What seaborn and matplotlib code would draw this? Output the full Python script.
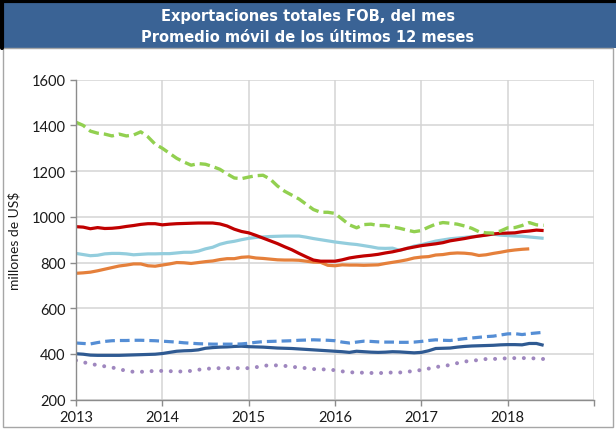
import numpy as np
import pandas as pd
import matplotlib
matplotlib.use("Agg")
import matplotlib.pyplot as plt
from matplotlib.patches import Rectangle
from matplotlib.lines import Line2D
import seaborn as sns

# Monthly 12-month moving averages, millions of US$, from January 2013
start_year = 2013
year_ticks = [2013, 2014, 2015, 2016, 2017, 2018, 2019]
year_labels = ["2013", "2014", "2015", "2016", "2017", "2018", ""]
y_ticks = [200, 400, 600, 800, 1000, 1200, 1400, 1600]

serie_verde = [1414, 1400, 1375, 1366, 1362, 1354, 1362, 1354, 1358, 1372, 1350, 1318,
               1300, 1278, 1256, 1240, 1226, 1233, 1230, 1220, 1208, 1188, 1170, 1167,
               1174, 1180, 1182, 1165, 1135, 1112, 1095, 1078, 1055, 1032, 1020, 1020,
               1015, 990, 965, 952, 966, 968, 962, 962, 956, 950, 942, 935,
               940, 955, 968, 975, 972, 968, 960, 950, 935, 930, 929, 938,
               952, 953, 962, 975, 965, 963]
serie_roja = [957, 955, 948, 953, 949, 950, 953, 958, 962, 967, 970, 970,
              965, 968, 970, 971, 972, 973, 973, 973, 969, 960, 946, 936,
              930, 919, 907, 895, 883, 869, 856, 840, 825, 811, 806, 806,
              806, 812, 820, 825, 829, 832, 836, 842, 847, 854, 862, 868,
              874, 878, 882, 887, 895, 900, 905, 911, 916, 920, 925, 928,
              929, 930, 935, 938, 942, 940]
serie_celeste = [840, 835, 830, 832, 838, 840, 840, 838, 834, 836, 838, 838,
                 839, 839, 842, 845, 845, 850, 860, 867, 880, 888, 893, 900,
                 906, 910, 912, 914, 915, 916, 916, 916, 911, 905, 900, 895,
                 890, 886, 882, 879, 874, 869, 863, 862, 863, 853, 862, 872,
                 878, 886, 894, 899, 904, 907, 910, 913, 916, 922, 924, 920,
                 918, 916, 915, 912, 909, 906]
serie_naranja = [753, 755, 758, 764, 771, 778, 785, 789, 794, 794, 786, 784,
                 789, 794, 800, 799, 796, 800, 804, 807, 813, 817, 817, 823,
                 825, 820, 818, 815, 812, 811, 811, 810, 806, 802, 801, 788,
                 786, 790, 789, 789, 788, 789, 790, 796, 801, 806, 812, 820,
                 824, 826, 833, 835, 840, 842, 841, 838, 831, 834, 840, 845,
                 851, 855, 858, 860]
serie_azul_discontinua = [448, 446, 444, 450, 455, 458, 459, 459, 460, 460, 459, 458,
                          456, 454, 452, 449, 447, 445, 444, 443, 443, 443, 443, 444,
                          447, 451, 454, 455, 456, 457, 458, 460, 461, 462, 461, 460,
                          458, 452, 448, 452, 456, 455, 453, 452, 452, 451, 451, 452,
                          455, 459, 462, 460, 459, 463, 467, 470, 473, 476, 478, 483,
                          488, 489, 485, 489, 492, 495]
serie_azul_oscura = [401, 399, 395, 394, 394, 394, 394, 395, 396, 397, 398, 399,
                     402, 407, 412, 414, 415, 418, 425, 428, 430, 431, 433, 434,
                     432, 431, 430, 428, 426, 425, 424, 422, 420, 418, 416, 414,
                     412, 410, 407, 412, 410, 408, 407, 408, 410, 409, 407, 405,
                     407, 414, 424, 425, 426, 430, 433, 435, 436, 437, 438, 440,
                     441, 441, 440, 446, 446, 438]
serie_morada = [372, 364, 357, 351, 346, 341, 334, 326, 322, 322, 324, 326,
                326, 325, 323, 324, 326, 331, 335, 337, 338, 338, 338, 338,
                338, 342, 348, 351, 350, 348, 344, 341, 338, 334, 333, 332,
                329, 324, 320, 319, 318, 317, 316, 318, 319, 319, 322, 326,
                330, 336, 343, 347, 352, 360, 367, 370, 374, 378, 378, 380,
                381, 382, 382, 382, 380, 378]

sns.set_theme(style="white")
plt.rcParams["font.family"] = ["Lato", "DejaVu Sans"]
plt.rcParams["lines.scale_dashes"] = False

fig = plt.figure(figsize=(6.16, 4.31), dpi=100)
ax = fig.add_axes([76 / 616, 1 - 400.7 / 431, (594 - 76) / 616, (400.7 - 80.7) / 431])


def fechas(values):
    return start_year + np.arange(len(values)) / 12.0


series = [
    (serie_naranja, "#e5803b", None, 2.3),
    (serie_celeste, "#93cddd", None, 2.3),
    (serie_roja, "#c00000", None, 2.3),
    (serie_verde, "#92d050", (7.5, 3.6), 2.4),
    (serie_azul_oscura, "#2f5a92", None, 2.3),
    (serie_azul_discontinua, "#558ed5", (7.0, 3.6), 2.3),
    (serie_morada, "#9f87bf", (0.01, 6.9), 2.9),
]

for values, color, dashes, lw in series:
    df = pd.DataFrame({"fecha": fechas(values), "valor": values})
    sns.lineplot(data=df, x="fecha", y="valor", color=color, linewidth=lw, ax=ax)
    line = ax.lines[-1]
    if dashes is not None:
        line.set_dashes(dashes)
        if dashes[0] < 0.1:
            line.set_dash_capstyle("round")
        else:
            line.set_dash_capstyle("butt")
    line.set_solid_capstyle("butt")

ax.set_xlim(2013, 2019)
ax.set_ylim(200, 1600)
ax.set_xticks(year_ticks)
ax.set_xticklabels(year_labels)
ax.set_yticks(y_ticks)
ax.set_yticklabels([str(v) for v in y_ticks])
ax.grid(True, color="#d4d4d4", linewidth=1.1)
ax.set_axisbelow(True)
for side in ["top", "right"]:
    ax.spines[side].set_visible(False)
for side in ["left", "bottom"]:
    ax.spines[side].set_color("#8c8c8c")
    ax.spines[side].set_linewidth(1.0)
ax.tick_params(axis="both", which="major", direction="out", length=4.5, width=1.0,
               color="#8c8c8c", labelsize=10.5, labelcolor="#1a1a1a", pad=3,
               left=True, bottom=True)
ax.set_xlabel("")
ax.set_ylabel("millones de US$", fontsize=10, color="#1a1a1a", labelpad=8)

# Title banner and outer frame
fig.patches.append(Rectangle((0, 1 - 49 / 431), 1, 49 / 431, transform=fig.transFigure,
                             facecolor="#3a6395", edgecolor="none", zorder=0))
fig.lines.append(Line2D([2 / 616, 2 / 616], [1 - 49 / 431, 1], transform=fig.transFigure,
                        color="black", linewidth=3))
fig.lines.append(Line2D([0, 1], [1 - 1.5 / 431, 1 - 1.5 / 431], transform=fig.transFigure,
                        color="black", linewidth=3))
fig.patches.append(Rectangle((3 / 616, 1 - 428 / 431), 610 / 616, (428 - 49) / 431,
                             transform=fig.transFigure, facecolor="none",
                             edgecolor="#a6a6a6", linewidth=1.0, zorder=0))

fig.text(0.5, 1 - 16 / 431, "Exportaciones totales FOB, del mes", ha="center", va="center",
         color="white", fontsize=10.5, fontweight="bold", family=["DejaVu Sans"])
fig.text(0.5, 1 - 38 / 431, "Promedio móvil de los últimos 12 meses", ha="center", va="center",
         color="white", fontsize=10.5, fontweight="bold", family=["DejaVu Sans"])

fig.savefig("out.png", dpi=100)
